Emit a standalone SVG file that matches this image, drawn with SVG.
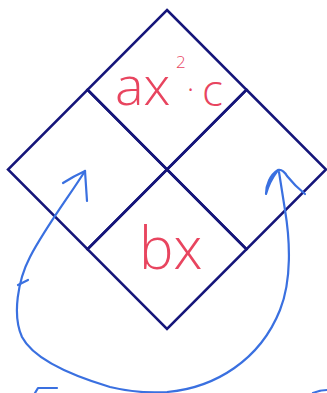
<svg xmlns="http://www.w3.org/2000/svg" width="327" height="393" viewBox="0 0 327 393">
  <style>
    .cell { fill: none; stroke: #15157a; stroke-width: 2.5; stroke-linejoin: miter; }
    .hand { fill: #e8455f; font-family: "Open Sans", "Liberation Sans", sans-serif; font-weight: 300; }
    .pen { fill: none; stroke: #3a70e0; stroke-width: 2.2; stroke-linecap: round; stroke-linejoin: round; }
  </style>
  <rect width="327" height="393" fill="#ffffff"/>
  <g id="cell-top">
    <polygon class="cell" points="167,10 246.5,89.75 167,169.5 87.5,89.75"/>
    <text class="hand" x="115" y="105" font-size="54">ax<tspan x="176" y="68" font-size="17">2</tspan><tspan x="187" y="99" font-size="30">·</tspan><tspan x="202" y="106" font-size="44">c</tspan></text>
  </g>
  <g id="cell-right">
    <polygon class="cell" points="246.5,89.75 326,169.5 246.5,249.25 167,169.5"/>
  </g>
  <g id="cell-bottom">
    <polygon class="cell" points="167,169.5 246.5,249.25 167,329 87.5,249.25"/>
    <text class="hand" x="139" y="269" font-size="58">bx</text>
  </g>
  <g id="cell-left">
    <polygon class="cell" points="87.5,89.75 167,169.5 87.5,249.25 8,169.5"/>
  </g>
  <g id="connectors">
    <path class="pen" d="M85,171 C70,195 45,228 30,257 C18,280 12,315 22,337 C35,362 80,378 110,387 C130,392 150,393 167,392 C215,388 260,360 280,310 C292,280 290,240 285,210 L279,172"/>
    <path class="pen" d="M63,183 Q74,176 85,171 Q86,186 87,201"/>
    <path class="pen" d="M266,194 C266,185 270,175 278,170 C272,178 268,186 266,194 M278,170 Q283,169 287,176 Q295,186 305,194"/>
    <path class="pen" d="M18,285 L28,280"/>
    <path class="pen" d="M35,393 L38,388 L57,388"/>
    <path class="pen" stroke="#8ab4f0" d="M313,393 Q320,390 327,390"/>
  </g>
</svg>
